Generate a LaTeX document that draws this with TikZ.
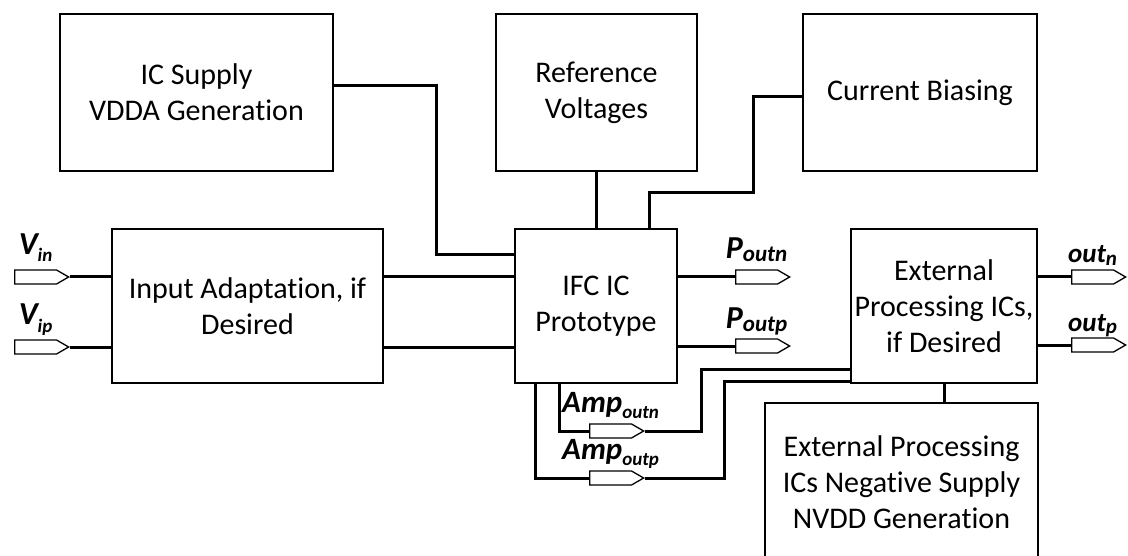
\documentclass[tikz,border=0pt]{standalone}
\usepackage{fontspec}
\setmainfont[Ligatures=NoCommon]{Carlito}
\usetikzlibrary{shapes.symbols}
\newcommand{\signame}[5]{{\fontsize{#3}{#3}\selectfont #1}\raisebox{-#5}{\fontsize{#4}{#4}\selectfont #2}}
\begin{document}
\begin{tikzpicture}[x=1pt, y=-1pt,
    block/.style={draw, line width=1.8pt, align=center, inner sep=0pt,
        font=\fontsize{30}{36}\selectfont},
    wire/.style={line width=3pt},
    port/.style={signal, signal to=east, signal pointer angle=60, draw,
        line width=1.3pt, fill=white, inner sep=0pt, minimum width=54pt,
        minimum height=14pt},
    portlabel/.style={anchor=base, inner sep=0pt, font=\bfseries\itshape}]
    \useasboundingbox (0,0) rectangle (1128,556);

    \node[block, minimum width=273pt, minimum height=157pt] (supply) at (196.5,92.5) {IC Supply\\VDDA Generation};
    \node[block, minimum width=201pt, minimum height=157pt] (refv) at (596.5,92.5) {Reference\\Voltages};
    \node[block, minimum width=234pt, minimum height=157pt] (bias) at (920,92.5) {Current Biasing};
    \node[block, minimum width=271pt, minimum height=154pt] (inadapt) at (247.5,306) {Input Adaptation, if\\Desired};
    \node[block, minimum width=162pt, minimum height=154pt] (ifc) at (596,306) {IFC IC\\Prototype};
    \node[block, minimum width=186pt, minimum height=154pt] (extproc) at (944,306) {External\\Processing ICs,\\if Desired};
    \node[block, minimum width=273pt, minimum height=159pt] (negsup) at (901.5,482.5) {External Processing\\ICs Negative Supply\\NVDD Generation};

    \node[port, anchor=west] (vin) at (14,277) {};
    \node[port, anchor=west] (vip) at (14,347) {};
    \node[port, anchor=west] (poutn) at (735,277) {};
    \node[port, anchor=west] (poutp) at (735,346) {};
    \node[port, anchor=west] (outn) at (1071,277) {};
    \node[port, anchor=west] (outp) at (1071,345) {};
    \node[port, anchor=west] (ampn) at (589,431) {};
    \node[port, anchor=west] (ampp) at (589,478) {};

    \node[portlabel] (vin-lbl) at ([yshift=22pt]vin.center) {\signame{V}{in}{32}{19}{7pt}};
    \node[portlabel] (vip-lbl) at ([yshift=22pt]vip.center) {\signame{V}{ip}{32}{19}{7pt}};
    \node[portlabel] (poutn-lbl) at ([yshift=18pt]poutn.center) {\signame{P}{outn}{32}{23}{3pt}};
    \node[portlabel] (poutp-lbl) at ([yshift=18pt]poutp.center) {\signame{P}{outp}{32}{23}{3pt}};
    \node[portlabel] (outn-lbl) at ([yshift=14pt]outn.center) {\signame{out}{n}{27}{21}{2pt}};
    \node[portlabel] (outp-lbl) at ([yshift=14pt]outp.center) {\signame{out}{p}{27}{21}{2pt}};
    \node[portlabel] (ampn-lbl) at ([yshift=19pt]ampn.center) {\signame{Amp}{outn}{31}{19}{6pt}};
    \node[portlabel] (ampp-lbl) at ([yshift=19pt]ampp.center) {\signame{Amp}{outp}{31}{19}{6pt}};

    \coordinate (vdda-in) at ([yshift=51pt]ifc.west);
    \draw[wire] ([yshift=6.5pt]supply.east) -| ([xshift=-78pt]vdda-in) -- (vdda-in);
    \draw[wire] (refv.south) -- (refv.south |- ifc.north);
    \draw[wire] ([yshift=-4.5pt]bias.west) -- ++(-49,0) -- ++(0,96) -| ([xshift=53pt]ifc.north);

    \draw[wire] (vin.east) -- (vin.east -| inadapt.west);
    \draw[wire] (vip.east) -- (vip.east -| inadapt.west);
    \draw[wire] (inadapt.east |- vin.east) -- (ifc.west |- vin.east);
    \draw[wire] (inadapt.east |- vip.east) -- (ifc.west |- vip.east);

    \draw[wire] (ifc.east |- poutn.west) -- (poutn.west);
    \draw[wire] (ifc.east |- poutp.west) -- (poutp.west);
    \draw[wire] (extproc.east |- outn.west) -- (outn.west);
    \draw[wire] (extproc.east |- outp.west) -- (outp.west);

    \draw[wire] ([xshift=-37pt]ifc.south) |- (ampn.west);
    \draw[wire] (ampn.east) -- ++(57,0) |- ([yshift=-63pt]extproc.west);
    \draw[wire] ([xshift=-61pt]ifc.south) |- (ampp.west);
    \draw[wire] (ampp.east) -- ++(80,0) |- ([yshift=-75pt]extproc.west);

    \draw[wire] (extproc.south) -- (extproc.south |- negsup.north);
\end{tikzpicture}
\end{document}
